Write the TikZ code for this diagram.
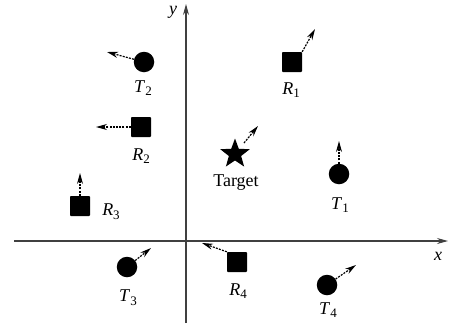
\documentclass[tikz,border=0pt]{standalone}
\usepackage{fontspec}
\setmainfont{Liberation Serif}
\newfontfamily\timesf{Liberation Serif}
\usetikzlibrary{shapes.geometric,arrows.meta}
\newcommand{\lab}[2]{\textit{#1}\raisebox{-0.45ex}{\fontsize{13}{15}\selectfont #2}}
\begin{document}
\begin{tikzpicture}[x=1pt,y=-1pt,
  axis/.style={draw=black!75,line width=1.1pt,-{Stealth[length=11pt,width=6pt]}},
  tgt/.style={circle,fill=black,inner sep=0pt,minimum size=20.5pt},
  rcv/.style={rectangle,rounded corners=0.8pt,fill=black,inner sep=0pt,minimum size=20pt},
  mov/.style={line width=1.2pt,dash pattern=on 2pt off 1.2pt,-{Stealth[length=11pt,width=6pt]}},
  lbl/.style={font=\timesf\fontsize{18}{21}\selectfont,inner sep=0pt}]
\useasboundingbox (0,0) rectangle (457,327);
% axes
\coordinate (xs) at (14,241);
\coordinate (xe) at (448,241);
\coordinate (ys) at (186,323);
\coordinate (ye) at (186,4);
\draw[axis] (xs) -- (xe);
\draw[axis] (ys) -- (ye);
\node[lbl] (xl) at (438,256) {\textit{x}};
\node[lbl] (yl) at (173,12) {\textit{y}};
% objects
\node[tgt] (t2) at (144,62) {};
\node[rcv] (r2) at (141,127) {};
\node[rcv] (r1) at (292,62) {};
\node[star,star points=5,star point ratio=2.4,fill=black,inner sep=0pt,minimum size=31pt] (tg) at (235,154) {};
\node[tgt] (t1) at (339,174) {};
\node[rcv] (r3) at (80,206) {};
\node[tgt] (t3) at (127,267) {};
\node[rcv] (r4) at (237,262) {};
\node[tgt] (t4) at (327,285) {};
% heads
\coordinate (t2h) at (107,52);
\coordinate (r2h) at (96,127);
\coordinate (r1h) at (315,29);
\coordinate (tgh) at (258,126);
\coordinate (t1h) at (339,141);
\coordinate (r3h) at (80,173);
\coordinate (t3h) at (151,248);
\coordinate (r4h) at (202,243);
\coordinate (t4h) at (356,265);
\coordinate (tgs) at (244,143);
\draw[mov] (t2) -- (t2h);
\draw[mov] (r2) -- (r2h);
\draw[mov] (r1.north east) -- (r1h);
\draw[mov] (tgs) -- (tgh);
\draw[mov] (t1) -- (t1h);
\draw[mov] (r3) -- (r3h);
\draw[mov] (t3) -- (t3h);
\draw[mov] (r4.north west) -- (r4h);
\draw[mov] (t4) -- (t4h);
% labels
\node[lbl] (t2l) at (143,88) {\lab{T}{2}};
\node[lbl] (r2l) at (141,156) {\lab{R}{2}};
\node[lbl] (r1l) at (291,90) {\lab{R}{1}};
\node[lbl] (tgl) at (236,183) {Target};
\node[lbl] (t1l) at (340,205) {\lab{T}{1}};
\node[lbl] (r3l) at (111,212) {\lab{R}{3}};
\node[lbl] (t3l) at (128,298) {\lab{T}{3}};
\node[lbl] (r4l) at (238,291) {\lab{R}{4}};
\node[lbl] (t4l) at (328,310) {\lab{T}{4}};
\end{tikzpicture}
\end{document}
